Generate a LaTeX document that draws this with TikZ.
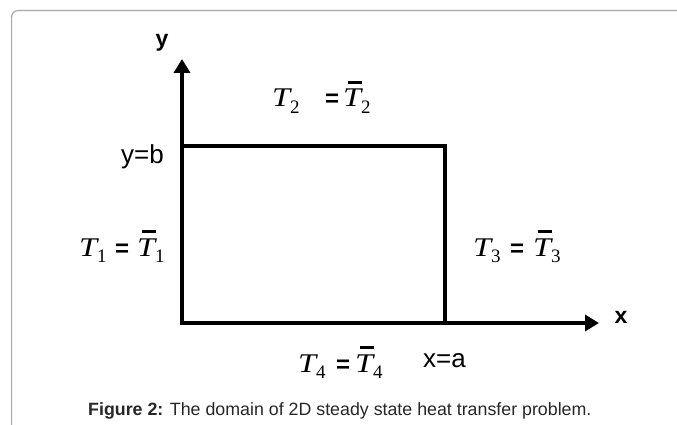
\documentclass[tikz,border=0pt]{standalone}
\usepackage{fontspec}
\usepackage{graphicx}
\setmainfont{Liberation Sans}
\setsansfont{Liberation Sans}
\newfontfamily\serifT{Liberation Serif}
\newfontfamily\sansEq{Liberation Sans}
\usetikzlibrary{arrows.meta}
\definecolor{framegray}{HTML}{A8A8A8}
\definecolor{captext}{HTML}{262626}
\newcommand\Tsub[1]{\raisebox{-6pt}{\fontsize{19}{19}\selectfont\upshape #1}}
\newcommand\Tletter{\scalebox{1.2}[1]{\itshape T}}
% #1 index, #2 offset T -> '=', #3 offset '=' -> barred T
\newcommand\Tlab[3]{%
  \makebox[#2][l]{\Tletter\Tsub{#1}}%
  \makebox[#3][l]{\sansEq\bfseries\fontsize{24}{24}\selectfont =}%
  \rlap{\hspace{5pt}\rule[23pt]{14pt}{3pt}}\Tletter\Tsub{#1}}
\begin{document}
\begin{tikzpicture}[x=1pt,y=-1pt,
  axis/.style={line width=3.6pt,-{Triangle[length=14pt,width=16pt]}},
  edge/.style={line width=3.6pt,line join=miter},
  tlab/.style={anchor=base west,inner sep=0pt,font=\serifT\fontsize{27}{27}\selectfont},
  slab/.style={anchor=base west,inner sep=0pt,font=\fontsize{26}{26}\selectfont},
  alab/.style={anchor=base,inner sep=0pt,font=\bfseries\fontsize{23}{23}\selectfont}]
\useasboundingbox (0,0) rectangle (677,425);
% frame
\draw[framegray,line width=1.2pt,rounded corners=6.5pt] (11.6,426) -- (11.6,10.5) -- (678,10.5);
% coordinates
\coordinate (O) at (182,323);
\coordinate (ytip) at (182,59);
\coordinate (xtip) at (599,323);
\coordinate (B) at (182,146);
\coordinate (C) at (445,146);
\coordinate (A) at (445,323);
% domain
\draw[edge] (B) -- (C) -- (A);
\draw[axis] ([yshift=1.8pt]O) -- (ytip);
\draw[axis] ([xshift=-1.8pt]O) -- (xtip);
% axis labels
\node[alab] (ylab) at (162,47) {y};
\node[alab] (xlab) at (621,323) {x};
\node[slab] (yb) at (121,164) {y=b};
\node[slab] (xa) at (423,367) {x=a};
% boundary labels
\node[tlab] (T2) at (272,107) {\Tlab{2}{53pt}{18pt}};
\node[tlab] (T1) at (79,256) {\Tlab{1}{36pt}{22pt}};
\node[tlab] (T3) at (473,256) {\Tlab{3}{37pt}{23pt}};
\node[tlab] (T4) at (298,372) {\Tlab{4}{38pt}{19pt}};
% caption
\node[anchor=base west,inner sep=0pt,text=captext,font=\fontsize{17.8}{17.8}\selectfont] (cap) at (88,415)
  {\textbf{Figure 2:} The domain of 2D steady state heat transfer problem.};
\end{tikzpicture}
\end{document}
